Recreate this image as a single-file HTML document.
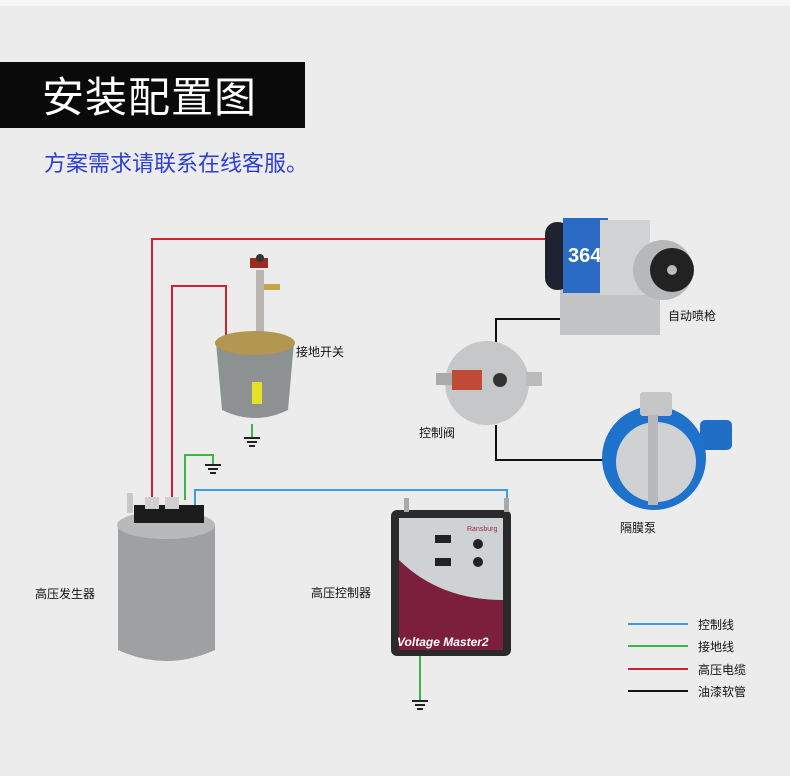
<!DOCTYPE html>
<html><head><meta charset="utf-8"><style>
html,body{margin:0;padding:0;width:790px;height:776px;overflow:hidden;background:#ececec}
svg{display:block}
text{font-family:"Liberation Sans","Noto Sans CJK SC",sans-serif}
</style></head><body>
<svg width="790" height="776" viewBox="0 0 790 776" xmlns="http://www.w3.org/2000/svg">
<rect width="790" height="776" fill="#ececec"/>
<rect width="790" height="6" fill="#f7f7f7"/>
<rect x="0" y="62" width="305" height="66" fill="#0a0a0a"/>
<text x="42" y="112" font-size="42" fill="#fff" letter-spacing="1">安装配置图</text>
<text x="44" y="171" font-size="22" fill="#2b3fd6">方案需求请联系在线客服。</text>

<!-- wires -->
<g fill="none" stroke-width="2">
<polyline points="152,500 152,239 548,239" stroke="#d5202f"/>
<polyline points="172,500 172,286 226,286 226,340" stroke="#d5202f"/>
<polyline points="252,424 252,437" stroke="#3cb44a"/>
<polyline points="185,500 185,455 213,455 213,464" stroke="#3cb44a"/>
<polyline points="420,655 420,700" stroke="#3cb44a"/>
<polyline points="195,510 195,490 507,490 507,500" stroke="#3a9ee0"/>
<polyline points="496,352 496,319 562,319" stroke="#111"/>
<polyline points="496,425 496,460 606,460" stroke="#111"/>
</g>
<!-- grounds -->
<g stroke="#222" stroke-width="2">
<line x1="244" y1="438" x2="260" y2="438"/><line x1="247" y1="442" x2="257" y2="442"/><line x1="249" y1="446" x2="255" y2="446"/>
<line x1="205" y1="465" x2="221" y2="465"/><line x1="208" y1="469" x2="218" y2="469"/><line x1="210" y1="473" x2="216" y2="473"/>
<line x1="412" y1="701" x2="428" y2="701"/><line x1="415" y1="705" x2="425" y2="705"/><line x1="417" y1="709" x2="423" y2="709"/>
</g>

<!-- bucket -->
<rect x="256" y="270" width="8" height="70" fill="#b8b4ae"/>
<rect x="250" y="258" width="18" height="10" fill="#9c2b20"/>
<circle cx="260" cy="258" r="4" fill="#333"/>
<rect x="264" y="284" width="16" height="6" fill="#c9a34a"/>
<path d="M216,342 Q255,328 294,342 L288,410 Q255,426 222,410 Z" fill="#8d9192"/>
<ellipse cx="255" cy="343" rx="40" ry="12" fill="#b39650"/>
<rect x="252" y="382" width="10" height="22" fill="#e4e02a"/>

<!-- generator -->
<path d="M118,525 L215,525 L215,650 Q166,672 118,650 Z" fill="#9ea0a2"/>
<ellipse cx="166" cy="525" rx="49" ry="14" fill="#b7b9bb"/>
<rect x="134" y="505" width="70" height="18" fill="#1c1c1c"/>
<rect x="145" y="497" width="14" height="12" fill="#d0d0d0"/>
<rect x="165" y="497" width="14" height="12" fill="#d0d0d0"/>
<rect x="127" y="493" width="6" height="20" fill="#c8c8c8"/>

<!-- controller -->
<rect x="391" y="510" width="120" height="146" rx="6" fill="#2a2a2a"/>
<rect x="399" y="518" width="104" height="132" fill="#cfd2d4"/>
<path d="M399,560 Q440,600 503,600 L503,650 L399,650 Z" fill="#7b1f3c"/>
<rect x="404" y="498" width="5" height="14" fill="#aaa"/><rect x="504" y="498" width="5" height="14" fill="#aaa"/>
<text x="467" y="531" font-size="7" fill="#9a2a3a">Ransburg</text>
<rect x="435" y="535" width="16" height="8" fill="#222"/><rect x="435" y="558" width="16" height="8" fill="#222"/>
<circle cx="478" cy="544" r="5" fill="#222"/><circle cx="478" cy="562" r="5" fill="#222"/>
<text x="397" y="646" font-size="12" font-style="italic" font-weight="bold" fill="#fff">Voltage Master2</text>

<!-- gun -->
<rect x="560" y="288" width="100" height="47" fill="#c2c4c6"/>
<rect x="545" y="222" width="25" height="68" rx="12" fill="#1f2230"/>
<rect x="563" y="218" width="45" height="75" fill="#2c6bc4"/>
<text x="568" y="262" font-size="20" fill="#fff" font-weight="bold">364</text>
<rect x="600" y="220" width="50" height="75" fill="#d0d2d4"/>
<circle cx="663" cy="270" r="30" fill="#b6b8ba"/>
<circle cx="672" cy="270" r="22" fill="#222"/>
<circle cx="672" cy="270" r="5" fill="#bbb"/>

<!-- valve -->
<circle cx="487" cy="383" r="42" fill="#c6c7c8"/>
<rect x="452" y="370" width="30" height="20" fill="#c04a36"/>
<rect x="436" y="373" width="16" height="12" fill="#aaa"/>
<rect x="526" y="372" width="16" height="14" fill="#bbb"/>
<circle cx="500" cy="380" r="7" fill="#333"/>

<!-- pump -->
<rect x="700" y="420" width="32" height="30" rx="5" fill="#1f6fc6"/>
<circle cx="654" cy="458" r="52" fill="#1f72cc"/>
<circle cx="656" cy="462" r="40" fill="#cfd1d3"/>
<rect x="640" y="392" width="32" height="24" rx="3" fill="#c4c6c8"/>
<rect x="648" y="415" width="10" height="90" fill="#b7b9bb"/>

<!-- labels -->
<g font-size="12" fill="#111">
<text x="296" y="356">接地开关</text>
<text x="419" y="437">控制阀</text>
<text x="668" y="320">自动喷枪</text>
<text x="620" y="532">隔膜泵</text>
<text x="35" y="598">高压发生器</text>
<text x="311" y="597">高压控制器</text>
<text x="698" y="629">控制线</text>
<text x="698" y="651">接地线</text>
<text x="698" y="674">高压电缆</text>
<text x="698" y="696">油漆软管</text>
</g>
<g stroke-width="2">
<line x1="628" y1="624" x2="688" y2="624" stroke="#3a9ee0"/>
<line x1="628" y1="646" x2="688" y2="646" stroke="#3cb44a"/>
<line x1="628" y1="669" x2="688" y2="669" stroke="#d5202f"/>
<line x1="628" y1="691" x2="688" y2="691" stroke="#111"/>
</g>
</svg>
</body></html>
